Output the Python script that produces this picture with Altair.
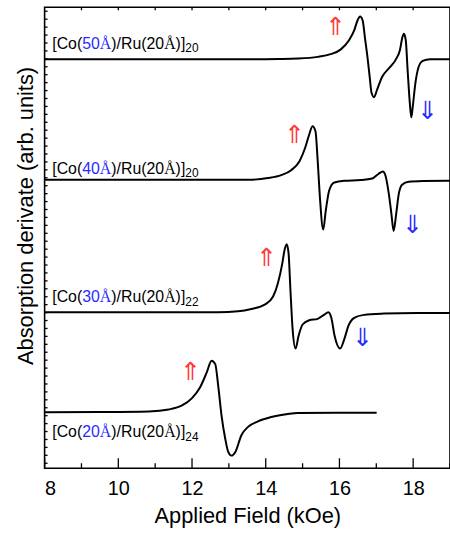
import altair as alt
import pandas as pd

# ---- Sample labels -------------------------------------------------------
co_thickness = ["50", "40", "30", "20"]
repeats = ["20", "20", "22", "24"]

# ---- FMR derivative traces: field (kOe) and signal relative to baseline ---
field_50 = [8.0, 10.0, 12.0, 13.5, 14.33, 14.87, 15.41, 15.76, 16.03, 16.26, 16.40, 16.49,
            16.56, 16.63, 16.69, 16.76, 16.82, 16.87, 16.94, 17.02, 17.16, 17.34, 17.52,
            17.64, 17.71, 17.75, 17.80, 17.85, 17.91, 17.95, 17.99, 18.06, 18.15, 18.26,
            18.46, 18.91, 19.0]
sig_50 = [0.0, 0.0, 0.0, 0.0, 0.3, 0.8, 2.5, 5.2, 9.8, 19.2, 29.2, 39.2,
          43.2, 39.2, 22.5, 2.5, -17.5, -33.5, -38.2, -30.8, -17.5, -9.2, -0.8,
          9.2, 22.5, 25.8, 19.2, -10.8, -44.2, -58.5, -47.5, -24.2, -7.5, -1.5,
          0.2, 0.2, 0.2]

field_40 = [8.0, 10.0, 12.18, 13.52, 14.06, 14.42, 14.69, 14.92, 15.07, 15.18, 15.27, 15.35,
            15.41, 15.47, 15.56, 15.63, 15.72, 15.86, 16.13, 16.57, 16.89, 17.07, 17.18,
            17.25, 17.34, 17.41, 17.47, 17.54, 17.61, 17.70, 17.88, 18.28, 18.91, 19.0]
sig_40 = [0.0, 0.0, 0.0, 0.0, 1.7, 4.7, 9.7, 19.0, 32.3, 45.7, 54.0, 49.0,
          19.0, -17.7, -50.3, -31.0, -11.0, -2.7, -1.0, -0.3, 1.3, 6.3, 8.3,
          4.0, -14.3, -34.3, -51.7, -34.3, -14.3, -5.0, -2.0, -1.3, -1.0, -1.0]

field_30 = [8.0, 10.0, 12.71, 13.25, 13.61, 13.97, 14.20, 14.33, 14.45, 14.51, 14.57, 14.62,
            14.67, 14.73, 14.81, 14.89, 15.00, 15.18, 15.41, 15.59, 15.70, 15.78, 15.87,
            16.02, 16.13, 16.24, 16.40, 16.67, 17.21, 18.10, 19.0]
sig_30 = [0.0, 0.0, 0.0, 1.0, 3.4, 7.7, 16.0, 29.4, 49.4, 62.7, 68.7, 59.4,
          22.7, -17.3, -36.6, -24.0, -12.3, -8.0, -6.6, -2.3, 0.0, -5.6, -24.0,
          -36.6, -27.3, -14.0, -5.6, -2.6, -1.3, -0.6, -0.6]

field_20 = [8.0, 9.48, 10.83, 11.37, 11.73, 12.00, 12.22, 12.40, 12.53, 12.63, 12.71, 12.80,
            12.90, 12.98, 13.07, 13.18, 13.34, 13.52, 13.79, 14.15, 14.60, 14.87, 15.95, 17.01]
sig_20 = [0.0, 0.2, 0.8, 2.8, 6.8, 14.2, 25.2, 40.2, 52.0, 48.5, 26.8, -3.2,
          -26.5, -39.8, -43.8, -39.8, -23.2, -14.8, -9.2, -4.8, -1.8, -0.8, -0.5, -0.5]

# vertical offsets that stack the traces
offsets = [412.5, 291.0, 157.3, 56.5]
label_y = [423.3, 297.0, 167.3, 31.3]

# resonance markers
up_field = [15.89, 14.78, 14.02, 11.97]
up_y = [445.0, 336.0, 212.0, 97.0]
down_field = [18.39, 17.99, 16.62]
down_y = [360.0, 245.0, 131.7]

major_ticks = [8, 10, 12, 14, 16, 18]
minor_ticks = [9, 11, 13, 15, 17, 19]
top_ticks = [9, 10, 11, 12, 13, 14, 15, 16, 17, 18]
left_ticks = [5 + 8 * i for i in range(58)]

W, H = 409, 465
X_MIN, X_MAX = 8, 19
PX_PER_KOE = W / (X_MAX - X_MIN)
SANS = "Liberation Sans"
SERIF = "Liberation Serif"
RED = "#ff3838"
BLUE = "#2a2aff"

fields = [field_50, field_40, field_30, field_20]
signals = [sig_50, sig_40, sig_30, sig_20]
rows = []
for name, f, s, off in zip(co_thickness, fields, signals, offsets):
    for xv, sv in zip(f, s):
        rows.append({"sample": name, "field": xv, "y": sv + off})
traces = pd.DataFrame(rows)

# label pieces laid out with Arial-compatible advance widths
ADV = {"[": 0.278, "]": 0.278, "C": 0.722, "o": 0.556, "(": 0.333, ")": 0.333,
       "/": 0.278, "R": 0.722, "u": 0.556, "0": 0.556, "2": 0.556, "3": 0.556,
       "4": 0.556, "5": 0.556, "Å": 0.667}
SERIF_ADV = {"Å": 0.722}
FS, SUB_FS = 16, 12
label_x0 = 8.207

seg_rows = []
for num, rep, ly in zip(co_thickness, repeats, label_y):
    pieces = [("[Co(", "black", "sans", FS, 0.0),
              (num, BLUE, "sans", FS, 0.0),
              ("Å", BLUE, "serif", FS, 0.0),
              (")/Ru(20", "black", "sans", FS, 0.0),
              ("Å", "black", "serif", FS, 0.0),
              (")]", "black", "sans", FS, 0.0),
              (rep, "black", "sans", SUB_FS, -3.5)]
    cursor = 0.0
    for text, col, fam, size, shift in pieces:
        seg_rows.append({"text": text, "color": col, "family": fam, "size": size,
                         "field": label_x0 + cursor / PX_PER_KOE, "y": ly + shift})
        table = SERIF_ADV if fam == "serif" else ADV
        cursor += sum(table.get(ch, 0.556) for ch in text) * size
segments = pd.DataFrame(seg_rows)

x_scale = alt.Scale(domain=[X_MIN, X_MAX], nice=False, zero=False)
y_scale = alt.Scale(domain=[0, H], nice=False, zero=False)

x_enc = alt.X("field:Q", scale=x_scale,
              axis=alt.Axis(values=major_ticks, format="d", title="Applied Field (kOe)",
                            ticks=False, tickSize=0, domain=False, grid=False,
                            labelFontSize=20, labelFont=SANS, labelColor="black",
                            labelBaseline="alphabetic", labelPadding=27,
                            titleFontSize=22, titleFont=SANS, titleFontWeight="normal",
                            titleColor="black", titleY=55, titleBaseline="alphabetic"))
y_enc = alt.Y("y:Q", scale=y_scale,
              axis=alt.Axis(title="Absorption derivate (arb. units)", labels=False,
                            ticks=False, domain=False, grid=False,
                            titleFontSize=22, titleFont=SANS, titleFontWeight="normal",
                            titleColor="black", titleX=-12, titleY=210,
                            titleBaseline="alphabetic", titleAngle=270))

lines = alt.Chart(traces).mark_line(color="black", strokeWidth=2, interpolate="monotone").encode(
    x=x_enc, y=y_enc, detail="sample:N")

up = alt.Chart(pd.DataFrame({"field": up_field, "y": up_y})).mark_text(
    text="⇑", font="DejaVu Sans", fontSize=25, fontWeight=200, color=RED,
    baseline="middle", align="center"
).encode(x=alt.X("field:Q", scale=x_scale), y=alt.Y("y:Q", scale=y_scale))

down = alt.Chart(pd.DataFrame({"field": down_field, "y": down_y})).mark_text(
    text="⇓", font="DejaVu Sans", fontSize=25, fontWeight=200, color=BLUE,
    baseline="middle", align="center"
).encode(x=alt.X("field:Q", scale=x_scale), y=alt.Y("y:Q", scale=y_scale))

def label_layer(family, font):
    return alt.Chart(segments).transform_filter(
        alt.datum.family == family
    ).mark_text(font=font, align="left", baseline="alphabetic").encode(
        x=alt.X("field:Q", scale=x_scale), y=alt.Y("y:Q", scale=y_scale),
        text="text:N", color=alt.Color("color:N", scale=None),
        size=alt.Size("size:Q", scale=None))

labels_sans = label_layer("sans", SANS)
labels_serif = label_layer("serif", SERIF)

tick_style = dict(color="black", strokeWidth=1.3)
bottom_major = alt.Chart(pd.DataFrame({"field": major_ticks})).mark_rule(**tick_style).encode(
    x=alt.X("field:Q", scale=x_scale), y=alt.value(H), y2=alt.value(H - 10))
bottom_minor = alt.Chart(pd.DataFrame({"field": minor_ticks})).mark_rule(**tick_style).encode(
    x=alt.X("field:Q", scale=x_scale), y=alt.value(H), y2=alt.value(H - 5))
top_minor = alt.Chart(pd.DataFrame({"field": top_ticks})).mark_rule(**tick_style).encode(
    x=alt.X("field:Q", scale=x_scale), y=alt.value(0), y2=alt.value(3))
left_minor = alt.Chart(pd.DataFrame({"y": left_ticks})).mark_rule(**tick_style).encode(
    y=alt.Y("y:Q", scale=y_scale), x=alt.value(0), x2=alt.value(3))

chart = alt.layer(
    lines, up, down, labels_sans, labels_serif,
    bottom_major, bottom_minor, top_minor, left_minor
).properties(
    width=W, height=H,
    autosize=alt.AutoSizeParams(type="none"),
    padding={"left": 45, "top": 5, "right": 0, "bottom": 63},
    background="white",
).configure_view(
    stroke="black", strokeWidth=1.6
)

chart.save("out.html", embed_options={"renderer": "svg", "actions": False})
